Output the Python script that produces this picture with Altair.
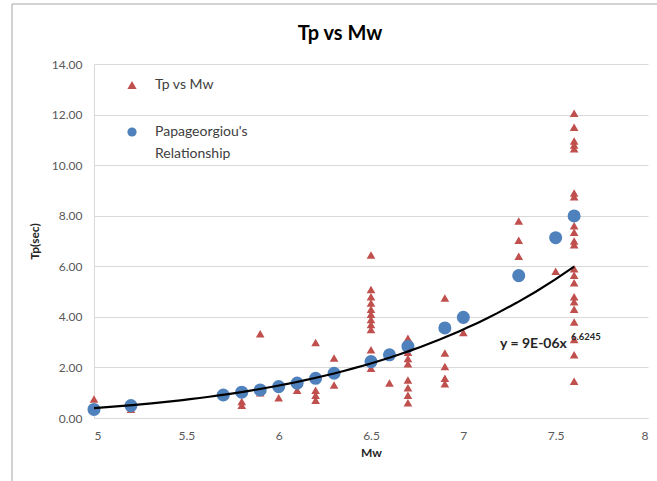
import altair as alt
import pandas as pd

# ---- data ----
SERIES = ["Tp vs Mw", "Papageorgiou's Relationship"]

tri_mw = [5.0, 5.2, 5.7, 5.8, 5.8, 5.9, 5.9, 6.0, 6.1,
          6.2, 6.2, 6.2, 6.2, 6.3, 6.3,
          6.5, 6.5, 6.5, 6.5, 6.5, 6.5, 6.5, 6.5, 6.5, 6.5, 6.5, 6.5,
          6.6,
          6.7, 6.7, 6.7, 6.7, 6.7, 6.7, 6.7, 6.7,
          6.9, 6.9, 6.9, 6.9, 6.9,
          7.0,
          7.3, 7.3, 7.3,
          7.5,
          7.6, 7.6, 7.6, 7.6, 7.6, 7.6, 7.6, 7.6, 7.6, 7.6, 7.6,
          7.6, 7.6, 7.6, 7.6, 7.6, 7.6, 7.6, 7.6, 7.6, 7.6]
tri_tp = [0.75, 0.35, 1.0, 0.65, 0.5, 3.33, 1.0, 0.8, 1.1,
          2.99, 1.1, 0.9, 0.7, 2.37, 1.31,
          6.45, 5.08, 4.8, 4.55, 4.3, 4.1, 3.9, 3.7, 3.5, 2.7, 2.3, 1.97,
          1.38,
          3.15, 2.6, 2.35, 2.15, 1.5, 1.2, 0.9, 0.6,
          4.75, 2.57, 2.04, 1.57, 1.35,
          3.38,
          7.79, 7.03, 6.4,
          5.8,
          12.05, 11.5, 10.95, 10.8, 10.65, 8.9, 8.75, 7.6, 7.35, 7.0, 6.85,
          5.9, 5.65, 5.35, 4.8, 4.6, 4.3, 3.8, 3.1, 2.5, 1.45]

circ_mw = [5.0, 5.2, 5.7, 5.8, 5.9, 6.0, 6.1, 6.2, 6.3, 6.5, 6.6, 6.7,
           6.9, 7.0, 7.3, 7.5, 7.6]
circ_tp = [0.34, 0.49, 0.91, 1.02, 1.11, 1.24, 1.38, 1.57, 1.77, 2.23, 2.50,
           2.83, 3.56, 3.98, 5.63, 7.13, 7.99]

x_ticks = [5, 5.5, 6, 6.5, 7, 7.5, 8]
y_ticks = [0, 2, 4, 6, 8, 10, 12, 14]
eq_main = "y = 9E-06x"
eq_exp = "6.6245"

df = pd.DataFrame({
    "Mw": tri_mw + circ_mw,
    "Tp": tri_tp + circ_tp,
    "series": [SERIES[0]] * len(tri_mw) + [SERIES[1]] * len(circ_mw),
})

FONT = "Lato"
RED = "#C0504D"
BLUE = "#4F81BD"

x_enc = alt.X("Mw:Q", scale=alt.Scale(domain=[5, 8], nice=False, zero=False),
              axis=alt.Axis(values=x_ticks, format="~g", title="Mw", grid=False,
                            labelPadding=12, titlePadding=6))
y_enc = alt.Y("Tp:Q", scale=alt.Scale(domain=[0, 14], nice=False),
              axis=alt.Axis(values=y_ticks, format=".2f", title="Tp(sec)",
                            labelPadding=12, titlePadding=10))

color_enc = alt.Color("series:N", scale=alt.Scale(domain=SERIES, range=[RED, BLUE]),
                      legend=alt.Legend(
                          title=None, orient="none", legendX=31, legendY=14,
                          symbolSize=85, symbolStrokeWidth=0, symbolOpacity=1,
                          labelFont=FONT, labelFontSize=14, labelColor="#404040",
                          labelOffset=16, rowPadding=33, padding=0,
                          labelExpr='datum.label == "Papageorgiou\'s Relationship" ? ["Papageorgiou\'s", "Relationship"] : datum.label'))
shape_enc = alt.Shape("series:N", scale=alt.Scale(domain=SERIES, range=["triangle-up", "circle"]))

base = alt.Chart(df)

tri = base.transform_filter(alt.datum.series == SERIES[0]).mark_point(
    filled=True, opacity=1, size=75, strokeWidth=0
).encode(x=x_enc, y=y_enc, color=color_enc, shape=shape_enc)

circ = base.transform_filter(alt.datum.series == SERIES[1]).mark_point(
    filled=True, opacity=1, size=170, strokeWidth=0
).encode(x=x_enc, y=y_enc, color=color_enc, shape=shape_enc)

trend = base.transform_filter(alt.datum.series == SERIES[0]).transform_regression(
    "Mw", "Tp", method="pow", extent=[5, 7.6]
).mark_line(color="black", strokeWidth=2.2).encode(x="Mw:Q", y="Tp:Q")

eq_df = pd.DataFrame({"main": [eq_main], "exp": [eq_exp]})
eq1 = alt.Chart(eq_df).mark_text(
    align="left", baseline="middle", font=FONT, fontSize=14, fontWeight="bold", color="#262626"
).encode(x=alt.value(406), y=alt.value(280), text="main:N")
eq2 = alt.Chart(eq_df).mark_text(
    align="left", baseline="middle", font=FONT, fontSize=9.5, fontWeight="bold", color="#262626"
).encode(x=alt.value(477), y=alt.value(273), text="exp:N")

frame_df = pd.DataFrame({"k": [0]})
frame = alt.Chart(frame_df).mark_rect(
    fill=None, stroke="#A6A6A6", strokeWidth=1, clip=False
).encode(x=alt.value(-82), x2=alt.value(720), y=alt.value(-60), y2=alt.value(520))

chart = alt.layer(frame, tri, circ, trend, eq1, eq2).properties(
    width=554, height=354,
    background="white",
    padding={"left": 94, "top": 64, "right": 9, "bottom": 63},
    autosize=alt.AutoSizeParams(type="none"),
    title=alt.TitleParams("Tp vs Mw", font=FONT, fontSize=20, fontWeight="bold",
                          color="black", anchor="middle", frame="group",
                          dx=-31, offset=-40),
).configure(
    style={"guide-label": {"lineHeight": 22}}
).configure_view(stroke=None).configure_axis(
    labelFont=FONT, labelFontSize=12, labelColor="#595959",
    titleFont=FONT, titleFontSize=12, titleFontWeight="bold", titleColor="#262626",
    domainColor="#D9D9D9", gridColor="#D9D9D9", ticks=False,
)

chart.save("out.html", embed_options={"renderer": "svg", "actions": False})
